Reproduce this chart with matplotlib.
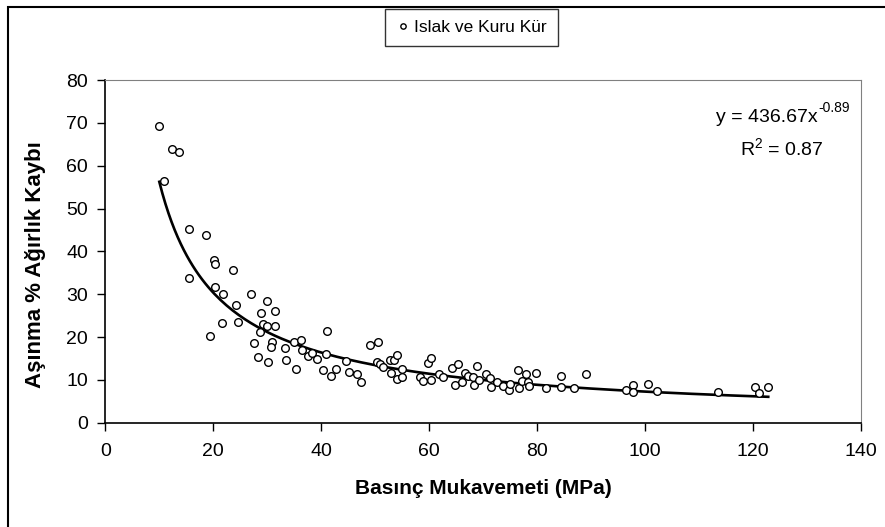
import matplotlib.pyplot as plt
import numpy as np

plt.rcParams['font.family'] = ['Liberation Sans', 'DejaVu Sans']
plt.rcParams['mathtext.fontset'] = 'custom'
plt.rcParams['mathtext.rm'] = 'Liberation Sans'
plt.rcParams['mathtext.it'] = 'Liberation Sans'

# Basınç mukavemeti (MPa) / aşınma ağırlık kaybı (%)
basinc = [10.0, 12.35, 13.7, 10.8, 15.5, 18.6, 20.2, 20.4, 23.6, 15.5,
          20.4, 21.8, 27.0, 24.3, 21.6, 24.6, 29.9, 28.8, 31.4, 29.3,
          29.9, 31.4, 28.6, 41.0, 19.4, 27.5, 30.9, 30.6, 33.3, 35.0,
          36.2, 36.4, 37.5, 38.2, 39.3, 40.9, 28.3, 30.1, 33.5, 35.3,
          40.4, 41.8, 49.1, 50.6, 42.7, 44.5, 45.1, 46.6, 47.4, 50.4,
          50.9, 51.5, 52.7, 53.5, 54.0, 53.0, 54.1, 54.9, 55.0, 58.3,
          58.8, 60.4, 59.8, 60.4, 61.9, 62.5, 64.3, 65.4, 64.8, 66.6,
          67.2, 66.0, 68.8, 68.2, 68.3, 69.3, 70.5, 71.2, 71.4, 72.5,
          73.6, 74.8, 74.9, 76.5, 76.6, 77.9, 77.1, 78.3, 78.5, 79.7,
          81.6, 84.4, 84.4, 86.8, 89.1, 96.4, 97.8, 97.8, 100.6, 102.2,
          113.4, 120.3, 121.1, 122.8]
kayip = [69.3, 64.0, 63.3, 56.4, 45.3, 43.9, 38.0, 37.0, 35.6, 33.7,
         31.7, 30.0, 30.0, 27.5, 23.2, 23.5, 28.4, 25.5, 26.1, 23.0,
         22.5, 22.5, 21.2, 21.5, 20.2, 18.5, 18.9, 17.7, 17.5, 18.9,
         19.3, 17.0, 15.6, 16.2, 14.9, 16.0, 15.3, 14.2, 14.6, 12.6,
         12.3, 11.0, 18.1, 18.8, 12.5, 14.5, 11.9, 11.4, 9.4, 14.2,
         13.6, 12.9, 14.6, 14.6, 15.7, 11.7, 10.2, 10.6, 12.5, 10.6,
         9.7, 10.0, 14.0, 15.0, 11.4, 10.6, 12.8, 13.7, 8.7, 11.7,
         11.0, 9.6, 13.3, 10.6, 8.7, 10.0, 11.4, 10.4, 8.3, 9.6,
         8.6, 7.6, 9.0, 12.3, 8.0, 11.3, 9.7, 9.6, 8.6, 11.7,
         8.2, 11.0, 8.4, 8.0, 11.4, 7.6, 8.7, 7.2, 9.0, 7.5,
         7.1, 8.4, 6.9, 8.4]

# power trendline shown on the chart
a_coef = 436.67
b_coef = -0.89
r2 = 0.87

fig = plt.figure(figsize=(8.85, 5.27), dpi=100)
ax = fig.add_axes([0.119, 0.198, 0.854, 0.650])

ax.plot(basinc, kayip, 'o', mfc='white', mec='black', ms=5.5, mew=1.0,
        label='Islak ve Kuru Kür', zorder=3)
xf = np.linspace(min(basinc), max(basinc), 200)
ax.plot(xf, a_coef * xf ** b_coef, color='black', lw=1.9, zorder=2)

ax.set_xlim(0, 140)
ax.set_ylim(0, 80)
ax.set_xticks(range(0, 141, 20))
ax.set_yticks(range(0, 81, 10))
ax.tick_params(direction='out', length=5.5, width=1, labelsize=14, colors='black')
ax.tick_params(axis='x', pad=9)
ax.tick_params(axis='y', pad=7)
for s in ['top', 'right']:
    ax.spines[s].set_color('#808080')
for s in ['left', 'bottom']:
    ax.spines[s].set_linewidth(1.2)

ax.set_xlabel('Basınç Mukavemeti (MPa)', fontsize=15, fontweight='bold', va='top')
ax.xaxis.set_label_coords(0.5, -0.165)
ax.set_ylabel('Aşınma % Ağırlık Kaybı', fontsize=16, fontweight='bold')
ax.yaxis.set_label_coords(-0.078, 0.46)

ax.text(0.942, 0.877, 'y = 436.67x', transform=ax.transAxes,
        ha='right', va='baseline', fontsize=14)
ax.text(0.943, 0.906, '-0.89', transform=ax.transAxes,
        ha='left', va='baseline', fontsize=10)
ax.text(0.895, 0.781, 'R$^{2}$ = 0.87', transform=ax.transAxes,
        ha='center', va='baseline', fontsize=14)

leg = fig.legend(loc='center', bbox_to_anchor=(0.533, 0.948), fontsize=12.5,
                 frameon=True, fancybox=False, edgecolor='black',
                 handletextpad=0.3, borderpad=0.65, handlelength=0.7,
                 markerscale=0.7)
leg.get_frame().set_linewidth(1.0)

# outer chart frame
fig.patches.append(plt.Rectangle((8 / 885, -0.1), 1.2, 1.1 - 7 / 527,
                                 transform=fig.transFigure, fill=False,
                                 edgecolor='black', lw=1.5))

fig.savefig('out.png', dpi=100)
